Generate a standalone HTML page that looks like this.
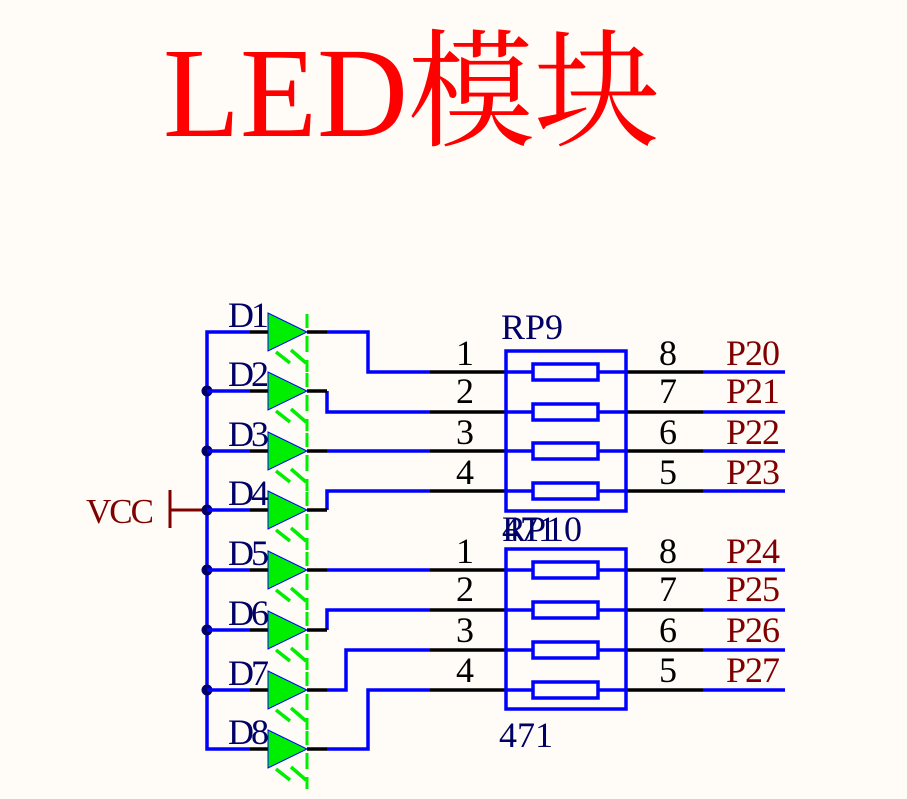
<!DOCTYPE html>
<html><head><style>
body{margin:0;background:#fffcf7;}
svg{display:block}
text{font-family:"Liberation Serif","Noto Serif CJK SC",serif;}
</style></head><body>
<svg width="907" height="799" viewBox="0 0 907 799" xmlns="http://www.w3.org/2000/svg">
<rect width="907" height="799" fill="#fffcf7"/>
<text x="163" y="136" font-size="128" fill="#ff0000" textLength="497" lengthAdjust="spacingAndGlyphs">LED模块</text>
<text x="86" y="523" font-size="35" fill="#800000" letter-spacing="-2">VCC</text>
<path d="M170 490V528M170 510H207" stroke="#800000" stroke-width="3" fill="none"/>
<path d="M250 332H207V749H250" stroke="#0000ff" stroke-width="3.5" fill="none"/>
<g fill="#000066">
<circle cx="207" cy="391" r="5.5"/><circle cx="207" cy="451" r="5.5"/><circle cx="207" cy="510" r="5.5"/>
<circle cx="207" cy="570" r="5.5"/><circle cx="207" cy="630" r="5.5"/><circle cx="207" cy="690" r="5.5"/>
</g>
<g stroke="#0000ff" stroke-width="3.5" fill="none">
<path d="M207 391H250M207 451H250M207 510H250M207 570H250M207 630H250M207 690H250"/>
<path d="M327 332H368V372H430"/>
<path d="M327 391V412H430"/>
<path d="M327 451H430"/>
<path d="M327 510V491H430"/>
<path d="M327 570H430"/>
<path d="M327 630V610H430"/>
<path d="M327 690H346V650H430"/>
<path d="M327 749H368V690H430"/>
</g>
<g stroke="#000" stroke-width="3.5">
<path d="M250 332H268M307 332H327M250 391H268M307 391H327M250 451H268M307 451H327M250 510H268M307 510H327M250 570H268M307 570H327M250 630H268M307 630H327M250 690H268M307 690H327M250 749H268M307 749H327"/>
</g>
<defs>
<g id="dd"><path d="M268 -19L307 0L268 19Z" fill="#00ee00" stroke="#0000ff" stroke-width="1"/><path d="M307 -18V-4M307 4V20M307 28V40" stroke="#00ee00" stroke-width="3"/><path d="M276 20L290 31M291 18L306 31" stroke="#00ee00" stroke-width="3.5"/></g>
</defs>
<use href="#dd" y="332"/><use href="#dd" y="391"/><use href="#dd" y="451"/><use href="#dd" y="510"/>
<use href="#dd" y="570"/><use href="#dd" y="630"/><use href="#dd" y="690"/><use href="#dd" y="749"/>
<g font-size="36" fill="#000066" letter-spacing="-3">
<text x="228" y="327">D1</text><text x="228" y="386">D2</text><text x="228" y="446">D3</text><text x="228" y="505">D4</text>
<text x="228" y="565">D5</text><text x="228" y="625">D6</text><text x="228" y="685">D7</text><text x="228" y="744">D8</text>
</g>
<g stroke="#000" stroke-width="3.5">
<path d="M430 372H505M430 412H505M430 451H505M430 491H505M627 372H703M627 412H703M627 451H703M627 491H703"/>
<path d="M430 570H505M430 610H505M430 650H505M430 690H505M627 570H703M627 610H703M627 650H703M627 690H703"/>
</g>
<g stroke="#0000ff" stroke-width="3.5" fill="none">
<path d="M703 372H785M703 412H785M703 451H785M703 491H785M703 570H785M703 610H785M703 650H785M703 690H785"/>
<rect x="506" y="351" width="120" height="160"/>
<rect x="506" y="549" width="120" height="160"/>
<path d="M506 372H533M598 372H626M506 412H533M598 412H626M506 451H533M598 451H626M506 491H533M598 491H626"/>
<path d="M506 570H533M598 570H626M506 610H533M598 610H626M506 650H533M598 650H626M506 690H533M598 690H626"/>
<rect x="533" y="364" width="65" height="16"/><rect x="533" y="404" width="65" height="16"/><rect x="533" y="443" width="65" height="16"/><rect x="533" y="483" width="65" height="16"/>
<rect x="533" y="562" width="65" height="16"/><rect x="533" y="602" width="65" height="16"/><rect x="533" y="642" width="65" height="16"/><rect x="533" y="682" width="65" height="16"/>
</g>
<g font-size="36" fill="#000066">
<text x="501" y="339">RP9</text>
<text x="502" y="541">471</text>
<text x="502" y="541">RP10</text>
<text x="499" y="747">471</text>
</g>
<g font-size="36" fill="#000">
<text x="456" y="365">1</text><text x="456" y="403">2</text><text x="456" y="444">3</text><text x="456" y="484">4</text>
<text x="659" y="365">8</text><text x="659" y="403">7</text><text x="659" y="444">6</text><text x="659" y="484">5</text>
<text x="456" y="563">1</text><text x="456" y="601">2</text><text x="456" y="642">3</text><text x="456" y="682">4</text>
<text x="659" y="563">8</text><text x="659" y="601">7</text><text x="659" y="642">6</text><text x="659" y="682">5</text>
</g>
<g font-size="36" fill="#800000" letter-spacing="-1">
<text x="726" y="365">P20</text><text x="726" y="403">P21</text><text x="726" y="444">P22</text><text x="726" y="484">P23</text>
<text x="726" y="563">P24</text><text x="726" y="601">P25</text><text x="726" y="642">P26</text><text x="726" y="682">P27</text>
</g>
</svg>
</body></html>
